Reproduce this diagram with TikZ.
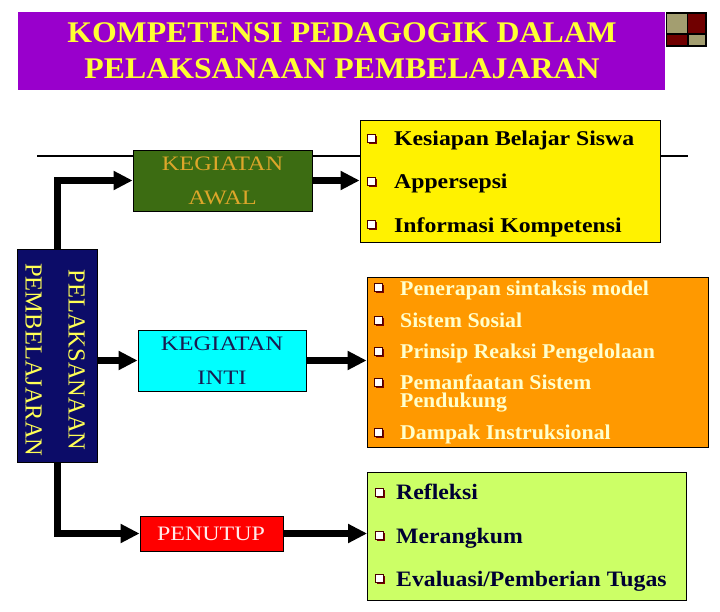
\documentclass[tikz,border=0pt]{standalone}
\usepackage{fontspec}
\setmainfont{Liberation Serif}
\usetikzlibrary{arrows.meta}
\definecolor{titlebg}{HTML}{9900CC}
\definecolor{titlefg}{HTML}{FFFF33}
\definecolor{awalbg}{HTML}{3C6C12}
\definecolor{awalfg}{HTML}{DDA62A}
\definecolor{navybg}{HTML}{0C0C68}
\definecolor{navyfg}{HTML}{FFFF55}
\definecolor{intibg}{HTML}{00FFFF}
\definecolor{intifg}{HTML}{1A1A50}
\definecolor{orangebg}{HTML}{FF9900}
\definecolor{orangefg}{HTML}{FFFFCC}
\definecolor{greenbg}{HTML}{CCFF66}
\definecolor{greenfg}{HTML}{000033}
\definecolor{bulred}{HTML}{7A0000}
\definecolor{khaki}{HTML}{A39E70}
\definecolor{iconred}{HTML}{700000}
\newcommand{\sx}[2]{\scalebox{#1}[1]{#2}}
\begin{document}
\begin{tikzpicture}[x=1pt,y=-1pt,
  box/.style={draw=black,line width=0.8pt,inner sep=0pt},
  arr/.style={line width=7pt,-{Triangle[length=19pt,width=18pt]}},
  ytext/.style={anchor=base west,inner sep=0pt,font=\fontsize{21}{25}\selectfont\bfseries,text=black},
  otext/.style={anchor=base west,inner sep=0pt,font=\fontsize{21}{18}\selectfont\bfseries,text=orangefg},
  gtext/.style={anchor=base west,inner sep=0pt,font=\fontsize{22}{26}\selectfont\bfseries,text=greenfg},
  bul/.pic={\fill[bulred] (-3,-3) rectangle (5,5);
            \filldraw[fill=white,draw=black!40!bulred,line width=0.9pt] (-5,-5) rectangle (3,3);}
]
\useasboundingbox (0,0) rectangle (720,612);
\fill[white] (0,0) rectangle (720,612);

% title
\node[box,draw=none,fill=titlebg,minimum width=647,minimum height=78] (title) at (341.5,51) {};
\node[inner sep=0pt,align=center,text=titlefg,font=\fontsize{30}{36}\selectfont\bfseries] (titletext) at (342,51)
  {\sx{1.06}{KOMPETENSI PEDAGOGIK DALAM}\\\sx{1.06}{PELAKSANAAN PEMBELAJARAN}};

% icon
\fill[black] (666,12) rectangle (707,47);
\fill[khaki] (667,14) rectangle (687,33);
\fill[iconred] (688,14) rectangle (705,33);
\fill[iconred] (667,35) rectangle (687,45);
\fill[khaki] (689,35) rectangle (705,45);

% thin line behind
\coordinate (lineL) at (37,156);
\coordinate (lineR) at (688,156);
\draw[line width=2pt] (lineL) -- (lineR);

% boxes
\node[box,fill=awalbg,minimum width=179,minimum height=61] (awal) at (222.5,180.5) {};
\node[inner sep=0pt,align=center,text=awalfg,font=\fontsize{20.5}{34}\selectfont] (awaltext) at (222.5,181)
  {\sx{1.19}{KEGIATAN}\\\sx{1.19}{AWAL}};

\node[box,fill=yellow,minimum width=300,minimum height=122] (yel) at (510,181) {};
\node[box,fill=navybg,minimum width=80,minimum height=213] (blue) at (57,355.5) {};
\node[inner sep=0pt,align=center,rotate=-90,text=navyfg,font=\fontsize{24.5}{43}\selectfont] (bluetext) at (55,360)
  {PELAKSANAAN\\PEMBELAJARAN};

\node[box,fill=intibg,minimum width=168,minimum height=61] (inti) at (222,360.5) {};
\node[inner sep=0pt,align=center,text=intifg,font=\fontsize{20.5}{34}\selectfont] (intitext) at (222,361)
  {\sx{1.2}{KEGIATAN}\\\sx{1.2}{INTI}};

\node[box,fill=orangebg,minimum width=341,minimum height=170] (ora) at (537.5,362) {};

\node[box,fill=red,minimum width=143,minimum height=35] (pen) at (211.5,533.5) {};
\node[inner sep=0pt,text=white!92!red,font=\fontsize{20.5}{24}\selectfont] (pentext) at (211,534) {\sx{1.17}{PENUTUP}};

\node[box,fill=greenbg,minimum width=319,minimum height=128] (grn) at (527,536) {};

% yellow items
\pic at (372,139) {bul};
\pic at (372,182) {bul};
\pic at (372,225) {bul};
\node[ytext] (y1) at (394,146) {\sx{1.13}{Kesiapan Belajar Siswa}};
\node[ytext] (y2) at (394,189) {\sx{1.13}{Appersepsi}};
\node[ytext] (y3) at (394,233) {\sx{1.13}{Informasi Kompetensi}};

% orange items
\pic at (379,288) {bul};
\pic at (379,321) {bul};
\pic at (379,352) {bul};
\pic at (379,383) {bul};
\pic at (379,433) {bul};
\node[otext] (o1) at (400,295) {\sx{1.04}{Penerapan sintaksis model}};
\node[otext] (o2) at (400,327) {\sx{1.04}{Sistem Sosial}};
\node[otext] (o3) at (400,358) {\sx{1.04}{Prinsip Reaksi Pengelolaan}};
\node[otext] (o4a) at (400,389) {\sx{1.04}{Pemanfaatan Sistem}};
\node[otext] (o4b) at (400,407) {\sx{1.04}{Pendukung}};
\node[otext] (o5) at (400,439) {\sx{1.04}{Dampak Instruksional}};

% green items
\pic at (380,493) {bul};
\pic at (380,536) {bul};
\pic at (380,579) {bul};
\node[gtext] (g1) at (396,499) {\sx{1.08}{Refleksi}};
\node[gtext] (g2) at (396,543) {\sx{1.08}{Merangkum}};
\node[gtext] (g3) at (396,586) {\sx{1.08}{Evaluasi/Pemberian Tugas}};

% connectors
\draw[arr] (blue.north) |- (awal.west);
\draw[arr] (awal.east) -- (awal.east -| yel.west);
\draw[arr] (blue.east |- inti.west) -- (inti.west);
\draw[arr] (inti.east) -- (inti.east -| ora.west);
\draw[arr] (blue.south) |- (pen.west);
\draw[arr] (pen.east) -- (pen.east -| grn.west);
\end{tikzpicture}
\end{document}
